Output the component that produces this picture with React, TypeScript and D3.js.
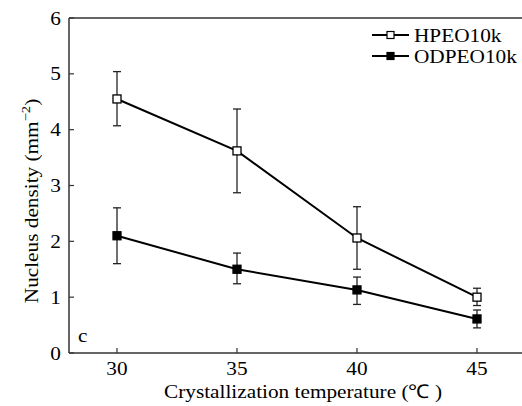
import React from "react";
import * as d3 from "d3";

const temps = [30, 35, 40, 45];
const hpeo = [4.55, 3.62, 2.06, 1.0];
const hpeoLo = [4.07, 2.87, 1.5, 0.85];
const hpeoHi = [5.04, 4.37, 2.62, 1.16];
const odpeo = [2.1, 1.5, 1.13, 0.61];
const odpeoLo = [1.6, 1.24, 0.87, 0.45];
const odpeoHi = [2.6, 1.79, 1.36, 0.77];
const yTicks = [0, 1, 2, 3, 4, 5, 6];
const xTicks = [30, 35, 40, 45];
const seriesNames = ["HPEO10k", "ODPEO10k"];

const W = 522, H = 406;
const SX = 1.12;
const ts = { fontFamily: "Liberation Serif", fontSize: 19 } as React.CSSProperties;

function T(props: { x: number; y: number; anchor?: string; rot?: number; dy?: string; children: React.ReactNode }) {
  const { x, y, anchor = "start", rot = 0, dy, children } = props;
  return (
    <text transform={`translate(${x},${y}) rotate(${rot}) scale(${SX},1)`} textAnchor={anchor} dy={dy} style={ts} fill="#000">
      {children}
    </text>
  );
}

export default function App() {
  const x = d3.scaleLinear().domain([28, 47]).range([69, 525]);
  const y = d3.scaleLinear().domain([0, 6]).range([353, 18]);
  const line = d3.line<number>().x((_, i) => x(temps[i])).y((d) => y(d));
  const series = [
    { name: seriesNames[0], v: hpeo, lo: hpeoLo, hi: hpeoHi, fill: "#fff" },
    { name: seriesNames[1], v: odpeo, lo: odpeoLo, hi: odpeoHi, fill: "#000" },
  ];
  const ms = 8;
  return (
    <svg width={W} height={H} style={{ position: "absolute", left: 0, top: 0, background: "#fff" }}>
      <line x1={x(28)} x2={W} y1={y(0)} y2={y(0)} stroke="#333" strokeWidth={1.5} />
      <line x1={x(28)} x2={W} y1={y(6)} y2={y(6)} stroke="#333" strokeWidth={1.5} />
      <line x1={x(28)} x2={x(28)} y1={y(0)} y2={y(6)} stroke="#333" strokeWidth={1.5} />
      {yTicks.map((t) => (
        <g key={"y" + t}>
          <line x1={x(28)} x2={x(28) + 5} y1={y(t)} y2={y(t)} stroke="#333" strokeWidth={1.2} />
          <T x={61} y={y(t)} dy="0.35em" anchor="end">{t}</T>
        </g>
      ))}
      {xTicks.map((t) => (
        <g key={"x" + t}>
          <line x1={x(t)} x2={x(t)} y1={y(0)} y2={y(0) - 5} stroke="#333" strokeWidth={1.2} />
          <T x={x(t)} y={375} anchor="middle">{t}</T>
        </g>
      ))}
      <T x={303} y={398} anchor="middle">Crystallization temperature (℃ )</T>
      <T x={38} y={201} rot={-90} anchor="middle">
        Nucleus density (mm<tspan dy={-8} style={{ fontSize: 13 }}>−2</tspan><tspan dy={8}>)</tspan>
      </T>
      <T x={78} y={342}>c</T>
      {series.map((s) => (
        <g key={s.name}>
          <path d={line(s.v) || ""} fill="none" stroke="#000" strokeWidth={2} />
          {s.v.map((v, i) => (
            <g key={i}>
              <line x1={x(temps[i])} x2={x(temps[i])} y1={y(s.lo[i])} y2={y(s.hi[i])} stroke="#222" strokeWidth={1.3} />
              <line x1={x(temps[i]) - 4} x2={x(temps[i]) + 4} y1={y(s.lo[i])} y2={y(s.lo[i])} stroke="#222" strokeWidth={1.3} />
              <line x1={x(temps[i]) - 4} x2={x(temps[i]) + 4} y1={y(s.hi[i])} y2={y(s.hi[i])} stroke="#222" strokeWidth={1.3} />
              <rect x={x(temps[i]) - ms / 2} y={y(v) - ms / 2} width={ms} height={ms} fill={s.fill} stroke="#000" strokeWidth={1.3} />
            </g>
          ))}
        </g>
      ))}
      {series.map((s, i) => (
        <g key={"lg" + i}>
          <line x1={372} x2={409} y1={35 + i * 21} y2={35 + i * 21} stroke="#000" strokeWidth={2} />
          <rect x={387} y={35 + i * 21 - 3.5} width={7} height={7} fill={s.fill} stroke="#000" strokeWidth={1.2} />
          <T x={414} y={35 + i * 21} dy="0.35em">{s.name}</T>
        </g>
      ))}
    </svg>
  );
}
